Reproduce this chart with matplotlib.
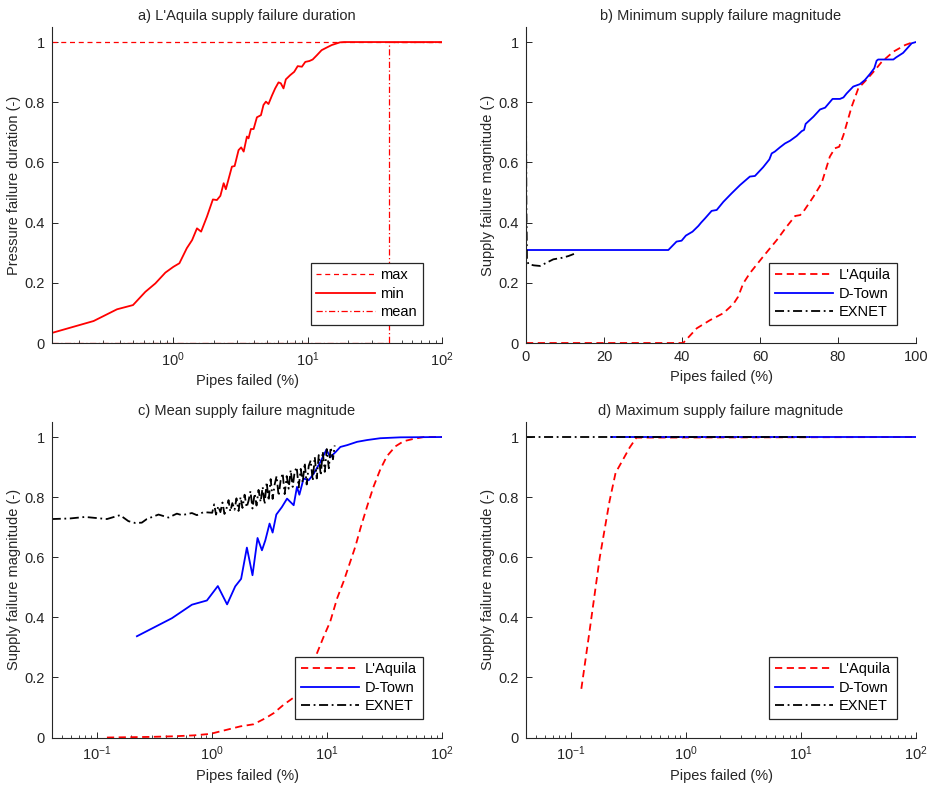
import matplotlib
matplotlib.use("Agg")
import matplotlib.pyplot as plt
import numpy as np

plt.rcParams['font.family'] = ['Liberation Sans', 'DejaVu Sans']
plt.rcParams['mathtext.fontset'] = 'custom'
plt.rcParams['mathtext.rm'] = 'Liberation Sans'
plt.rcParams['mathtext.it'] = 'Liberation Sans'
FS = 10.5

# ---------------- Panel a: L'Aquila supply failure duration ----------------
a_min_x = [0.126, 0.255, 0.381, 0.501, 0.619, 0.735, 0.873, 1.0, 1.11, 1.26, 1.38, 1.50, 1.61,
           1.78, 1.97, 2.11, 2.24, 2.37, 2.46, 2.73, 2.86, 3.06, 3.20, 3.34, 3.53, 3.63, 3.78,
           3.96, 4.19, 4.49, 4.69, 4.89, 5.11, 5.42, 5.73, 6.07, 6.31, 6.61, 6.88, 7.41, 7.94,
           8.43, 9.06, 9.6, 10.3, 10.9, 11.7, 12.7, 13.9, 15.1, 17.4, 18.7, 100.0]
a_min_y = [0.034, 0.073, 0.112, 0.126, 0.170, 0.198, 0.234, 0.253, 0.265, 0.315, 0.342, 0.381, 0.370,
           0.420, 0.477, 0.475, 0.489, 0.531, 0.511, 0.586, 0.588, 0.641, 0.650, 0.636, 0.686, 0.680, 0.711,
           0.711, 0.750, 0.757, 0.791, 0.802, 0.794, 0.822, 0.846, 0.866, 0.863, 0.846, 0.876, 0.890, 0.901,
           0.920, 0.918, 0.934, 0.937, 0.942, 0.956, 0.973, 0.982, 0.990, 0.999, 1.0, 1.0]
a_max_x = [0.125, 100.0]
a_max_y = [1.0, 1.0]
a_mean_x = [0.125, 40.6, 40.6, 100.0]
a_mean_y = [0.0, 0.0, 1.0, 1.0]

# ---------------- Panel b: Minimum supply failure magnitude ----------------
b_laq_x = [0.0, 40.3, 43.8, 47.2, 50.6, 53.2, 54.4, 55.7, 57.4, 60.8, 64.3, 66.8, 69.0, 70.3, 71.1,
           73.7, 75.8, 77.9, 79.2, 80.3, 81.4, 83.5, 85.2, 87.4, 89.5, 91.2, 94.2, 97.2, 99.3]
b_laq_y = [0.0, 0.0, 0.049, 0.076, 0.099, 0.130, 0.154, 0.198, 0.232, 0.287, 0.342, 0.386, 0.422, 0.425, 0.436,
           0.486, 0.531, 0.619, 0.647, 0.652, 0.691, 0.785, 0.846, 0.876, 0.907, 0.934, 0.968, 0.990, 1.0]
b_dt_x = [0.0, 36.5, 38.6, 39.9, 41.0, 42.7, 44.2, 44.9, 45.9, 47.6, 48.9, 50.6, 52.7, 54.9, 57.4, 58.7,
          60.8, 62.4, 63.0, 63.8, 65.1, 66.4, 67.7, 69.4, 70.7, 71.3, 71.7, 73.7, 75.4, 76.7, 78.6,
          80.5, 81.4, 82.2, 83.9, 85.6, 86.9, 88.2, 89.3, 89.9, 90.3, 94.2, 94.9, 96.7, 98.9, 100.0]
b_dt_y = [0.309, 0.309, 0.337, 0.340, 0.357, 0.370, 0.389, 0.400, 0.414, 0.439, 0.442, 0.469, 0.497, 0.525, 0.553, 0.555,
          0.584, 0.610, 0.630, 0.636, 0.650, 0.663, 0.672, 0.688, 0.704, 0.708, 0.728, 0.752, 0.776, 0.782, 0.811,
          0.811, 0.816, 0.829, 0.852, 0.860, 0.874, 0.894, 0.913, 0.938, 0.942, 0.942, 0.949, 0.964, 0.996, 1.0]
b_ex_x = [0.02, 0.1, 0.25, 0.6, 2.0, 3.6, 5.3, 7.0, 9.2, 10.9, 12.3]
b_ex_y = [0.73, 0.45, 0.28, 0.262, 0.258, 0.256, 0.267, 0.278, 0.283, 0.289, 0.296]

# ---------------- Panel c: Mean supply failure magnitude ----------------
c_laq_x = [0.123, 0.292, 0.466, 0.695, 0.97, 1.36, 1.77, 2.31, 2.92, 3.45, 4.21, 5.15, 6.28, 7.43, 8.22,
           9.39, 10.7, 12.3, 14.0, 16.0, 17.7, 19.6, 22.4, 25.5, 29.1, 33.2, 39.4, 46.4, 56.8, 69.5, 100.0]
c_laq_y = [0.0, 0.002, 0.004, 0.007, 0.012, 0.026, 0.037, 0.044, 0.064, 0.081, 0.109, 0.133, 0.170, 0.229, 0.281,
           0.336, 0.386, 0.464, 0.520, 0.586, 0.636, 0.697, 0.770, 0.836, 0.892, 0.936, 0.969, 0.986, 0.994, 1.0, 1.0]
c_dt_x = [0.224, 0.451, 0.673, 0.908, 1.13, 1.36, 1.60, 1.80, 2.02, 2.26, 2.50, 2.73, 2.92, 3.18, 3.38, 3.64,
          4.07, 4.51, 5.15, 5.50, 5.77, 6.28, 6.95, 7.68, 8.78, 9.91, 10.7, 11.9, 13.1, 15.0, 18.3, 22.4,
          29.1, 43.6, 100.0]
c_dt_y = [0.337, 0.397, 0.442, 0.456, 0.504, 0.443, 0.503, 0.528, 0.632, 0.540, 0.664, 0.623, 0.656, 0.712, 0.682, 0.742,
          0.767, 0.795, 0.773, 0.834, 0.808, 0.862, 0.856, 0.878, 0.917, 0.958, 0.933, 0.950, 0.967, 0.973, 0.984, 0.990,
          0.996, 0.999, 1.0]
c_ex_x = [0.0408, 0.0589, 0.0794, 0.123, 0.160, 0.189, 0.216, 0.247, 0.273, 0.345, 0.421, 0.498, 0.551, 0.673,
          0.743, 0.849,
          1.01, 1.05, 1.09, 1.14, 1.19, 1.24, 1.29, 1.34, 1.40, 1.45, 1.51, 1.58, 1.64, 1.71, 1.78,
          1.85, 1.93, 2.01, 2.09, 2.17, 2.26, 2.36, 2.45, 2.55, 2.66,
          2.77, 2.88, 3.00, 3.12, 3.25, 3.38, 3.52, 3.66, 3.81, 3.97,
          4.13, 4.30, 4.48, 4.66, 4.85, 5.05, 5.25, 5.47, 5.69, 5.93,
          6.17, 6.42, 6.68, 6.96, 7.24, 7.54, 7.85, 8.17, 8.50, 8.85,
          9.21, 9.59, 9.98, 10.4, 10.8, 11.3, 11.7]
c_ex_y = [0.727, 0.729, 0.734, 0.727, 0.740, 0.720, 0.714, 0.715, 0.727, 0.742, 0.732, 0.745, 0.740, 0.747,
          0.740, 0.750,
          0.748, 0.776, 0.742, 0.770, 0.750, 0.782, 0.744, 0.760, 0.790, 0.752, 0.780, 0.758, 0.796, 0.754, 0.800,
          0.764, 0.808, 0.766, 0.788, 0.820, 0.762, 0.812, 0.772, 0.824, 0.784,
          0.834, 0.776, 0.850, 0.788, 0.860, 0.794, 0.842, 0.870, 0.804, 0.856,
          0.880, 0.810, 0.870, 0.828, 0.890, 0.834, 0.884, 0.900, 0.832, 0.894,
          0.848, 0.914, 0.842, 0.904, 0.922, 0.854, 0.934, 0.862, 0.940, 0.872,
          0.952, 0.884, 0.960, 0.896, 0.966, 0.926, 0.972]

# ---------------- Panel d: Maximum supply failure magnitude ----------------
d_laq_x = [0.124, 0.146, 0.179, 0.218, 0.246, 0.276, 0.326, 0.373, 100.0]
d_laq_y = [0.162, 0.353, 0.598, 0.787, 0.881, 0.915, 0.965, 0.998, 1.0]
d_dt_x = [0.224, 100.0]
d_dt_y = [1.0, 1.0]
d_ex_x = [0.0408, 12.0]
d_ex_y = [1.0, 1.0]

yticks = [0, 0.2, 0.4, 0.6, 0.8, 1.0]
ytick_labels = ['0', '0.2', '0.4', '0.6', '0.8', '1']

RED = '#ff0000'
BLUE = '#0000ff'
BLACK = '#000000'
DASH = (0, (4, 2.5))
DASHDOT = (0, (5, 2, 1, 2))
LW = 1.3
SPINE = '#262626'

fig = plt.figure(figsize=(9.35, 7.86), dpi=100)
W, H = 935, 786

def make_ax(left, right, top, bottom):
    return fig.add_axes([left / W, (H - bottom) / H, (right - left) / W, (bottom - top) / H])

axa = make_ax(52, 442, 27, 343)
axb = make_ax(526, 916, 27, 343)
axc = make_ax(52, 442, 422, 737.5)
axd = make_ax(526, 916, 422, 737.5)

def style(ax, title, ylabel):
    ax.set_title(title, fontsize=FS, pad=5, color='#262626')
    ax.set_xlabel('Pipes failed (%)', fontsize=FS, labelpad=4, color='#262626')
    ax.set_ylabel(ylabel, fontsize=FS, labelpad=3, color='#262626')
    for s in ['top', 'right']:
        ax.spines[s].set_visible(False)
    for s in ['left', 'bottom']:
        ax.spines[s].set_color(SPINE)
        ax.spines[s].set_linewidth(0.8)
    ax.set_ylim(0, 1.05)
    ax.set_yticks(yticks)
    ax.set_yticklabels(ytick_labels)
    ax.tick_params(which='major', direction='in', length=4, width=0.7, colors=SPINE,
                   labelsize=FS, labelcolor='#262626', pad=5)
    ax.tick_params(which='minor', direction='in', length=2.2, width=0.6, colors=SPINE)
    ax.tick_params(axis='y', which='minor', left=False)

def legend(ax, handles, labels, anchor):
    leg = ax.legend(handles, labels, loc='lower right', bbox_to_anchor=anchor,
                    borderaxespad=0, fontsize=FS, fancybox=False, framealpha=1,
                    edgecolor='#262626', handlelength=4.0, handletextpad=0.4,
                    borderpad=0.4, labelspacing=0.3)
    leg.get_frame().set_linewidth(0.9)
    return leg

# Panel a
axa.set_xscale('log')
l1, = axa.plot(a_max_x, a_max_y, color=RED, lw=0.9, linestyle=(0, (4, 3)))
l2, = axa.plot(a_min_x, a_min_y, color=RED, lw=LW, linestyle='-')
l3, = axa.plot(a_mean_x, a_mean_y, color=RED, lw=0.9, linestyle=(0, (5, 2, 1, 2)))
axa.set_xlim(0.125, 100)
style(axa, "a) L'Aquila supply failure duration", 'Pressure failure duration (-)')
legend(axa, [l1, l2, l3], ['max', 'min', 'mean'], ((423 - 52) / 390, (343 - 325) / 316))

# Panel b
h1, = axb.plot(b_laq_x, b_laq_y, color=RED, lw=LW, linestyle=DASH)
h2, = axb.plot(b_dt_x, b_dt_y, color=BLUE, lw=LW, linestyle='-')
h3, = axb.plot(b_ex_x, b_ex_y, color=BLACK, lw=LW, linestyle=DASHDOT)
axb.set_xlim(0, 100)
axb.set_xticks([0, 20, 40, 60, 80, 100])
style(axb, 'b) Minimum supply failure magnitude', 'Supply failure magnitude (-)')
legend(axb, [h1, h2, h3], ["L'Aquila", 'D-Town', 'EXNET'], ((897 - 526) / 390, (343 - 325) / 316))

# Panel c
axc.set_xscale('log')
h1, = axc.plot(c_laq_x, c_laq_y, color=RED, lw=LW, linestyle=DASH)
h2, = axc.plot(c_dt_x, c_dt_y, color=BLUE, lw=LW, linestyle='-')
h3, = axc.plot(c_ex_x, c_ex_y, color=BLACK, lw=LW, linestyle=DASHDOT)
axc.set_xlim(0.041, 100)
style(axc, 'c) Mean supply failure magnitude', 'Supply failure magnitude (-)')
legend(axc, [h1, h2, h3], ["L'Aquila", 'D-Town', 'EXNET'], ((423 - 52) / 390, (737.5 - 719) / 315.5))

# Panel d
axd.set_xscale('log')
h1, = axd.plot(d_laq_x, d_laq_y, color=RED, lw=LW, linestyle=DASH)
h2, = axd.plot(d_dt_x, d_dt_y, color=BLUE, lw=LW, linestyle='-')
h3, = axd.plot(d_ex_x, d_ex_y, color=BLACK, lw=LW, linestyle=DASHDOT)
axd.set_xlim(0.041, 100)
style(axd, 'd) Maximum supply failure magnitude', 'Supply failure magnitude (-)')
legend(axd, [h1, h2, h3], ["L'Aquila", 'D-Town', 'EXNET'], ((897 - 526) / 390, (737.5 - 719) / 315.5))

fig.savefig('out.png', dpi=100)
